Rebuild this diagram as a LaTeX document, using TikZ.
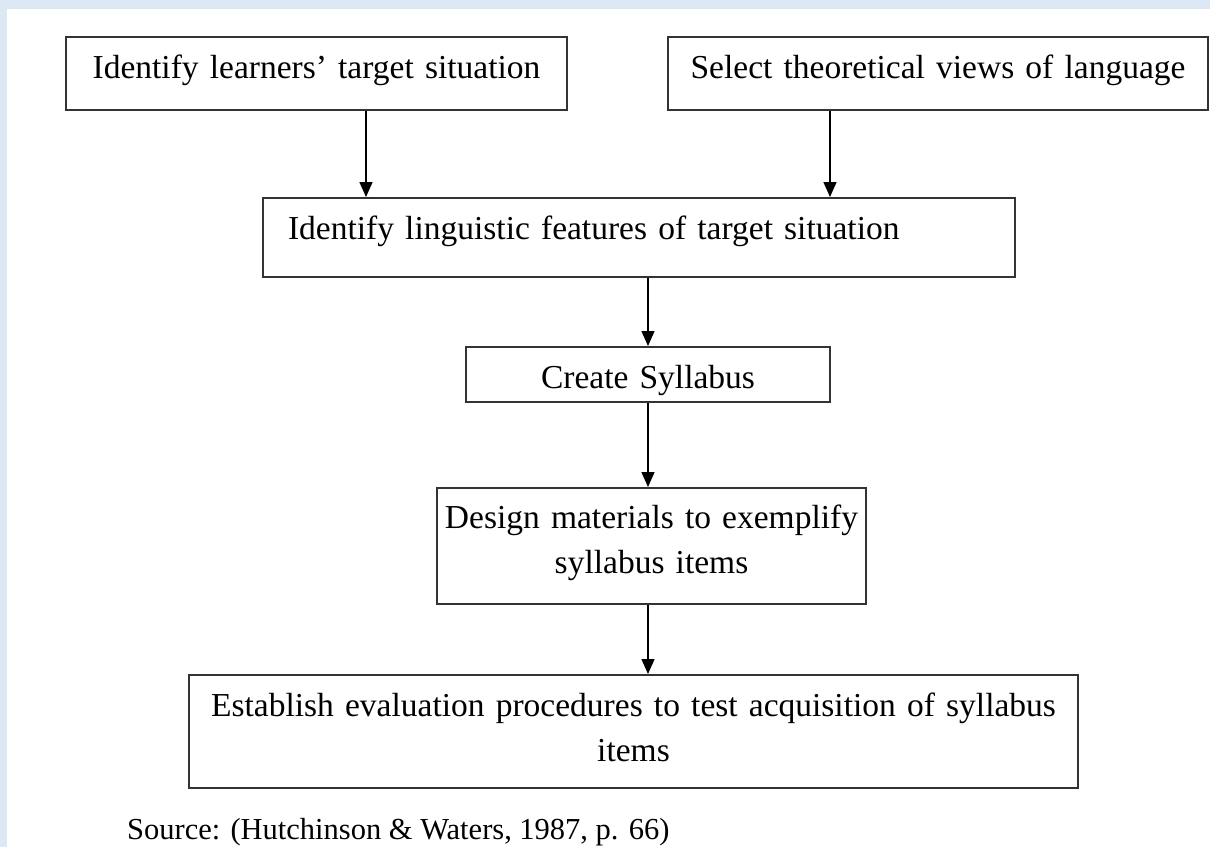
\documentclass[tikz,border=0pt]{standalone}
\usepackage{fontspec}
\setmainfont{Liberation Serif}
\usepackage{tikz}
\usetikzlibrary{arrows.meta, calc}
\definecolor{pageblue}{HTML}{DDE8F5}
\newcommand{\stagefont}{\fontsize{33.5}{45}\selectfont}
\begin{document}
\begin{tikzpicture}[x=1pt, y=-1pt,
    stage/.style={draw=black!80, line width=2pt, inner sep=0pt, align=center, font=\stagefont, anchor=north west},
    flow/.style={-{Triangle[length=15pt,width=13pt]}, line width=1.5pt}]
                        \useasboundingbox (0,0) rectangle (1210,847);
                        \fill[pageblue] (0,0) rectangle (1210,847);
                        \fill[white] (7,9) rectangle (1210,847);
                        \node[stage, text width=501pt, text height=41pt, text depth=32pt] (target) at (65,36) {Identify learners’ target situation};
                        \node[stage, text width=540pt, text height=41pt, text depth=32pt] (views) at (667,36) {Select theoretical views of language};
                        \node[stage, align=left, inner xsep=25pt, text width=702pt, text height=41pt, text depth=38pt] (features) at (262,197) {Identify linguistic features of target situation};
                        \node[stage, text width=364pt, text height=41pt, text depth=14pt] (syllabus) at (465,346) {Create Syllabus};
                        \node[stage, text width=429pt, text height=40pt, text depth=76pt] (materials) at (436,487) {Design materials to exemplify\\syllabus items};
                        \node[stage, text width=889pt, text height=41pt, text depth=72pt] (evaluation) at (188,674) {Establish evaluation procedures to test acquisition of syllabus\\items};
                        \draw[flow] ([xshift=49.5pt]target.south) -- ([xshift=49.5pt]target.south |- features.north);
                        \draw[flow] ([xshift=-108pt]views.south) -- ([xshift=-108pt]views.south |- features.north);
                        \draw[flow] (syllabus.north |- features.south) -- (syllabus.north);
                        \draw[flow] (syllabus.south) -- (syllabus.south |- materials.north);
                        \draw[flow] (syllabus.south |- materials.south) -- (syllabus.south |- evaluation.north);
                        \node[anchor=base west, inner sep=0pt, font=\fontsize{30.5}{36}\selectfont] (source) at (127,839) {Source: (Hutchinson \& Waters, 1987, p. 66)};
                    \end{tikzpicture}
\end{document}
